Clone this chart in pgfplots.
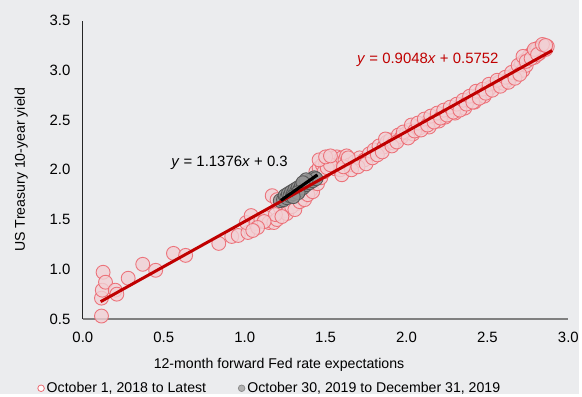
\documentclass[border=0pt]{standalone}
\usepackage{fontspec}
\setmainfont{Liberation Sans}
\usepackage{pgfplots}
\pgfplotsset{compat=1.18}
\definecolor{bg}{RGB}{235,236,238}
\definecolor{pinkfill}{RGB}{242,208,212}
\definecolor{pinkedge}{RGB}{236,104,112}
\definecolor{grayfill}{RGB}{150,150,150}
\definecolor{grayedge}{RGB}{88,88,88}
\definecolor{darkred}{RGB}{192,0,0}
\begin{document}
\begin{tikzpicture}[font=\fontsize{14.2bp}{17bp}\selectfont]
\fill[bg] (-83.3bp,-75.3bp) rectangle (498.7bp,320.7bp);
\begin{axis}[
  at={(0,0)}, anchor=south west,
  scale only axis, width=488bp, height=300bp,
  xmin=0, xmax=3, ymin=0.5, ymax=3.5,
  xtick={0,0.5,...,3.0}, ytick={0.5,1.0,...,3.5},
  axis lines=left, axis line style={-},
  x axis line style={draw=black!50, line width=1.2pt},
  y axis line style={draw=black!85, line width=0.8pt},
  major tick length=0pt,
  tick label style={font=\fontsize{15bp}{17bp}\selectfont},
  /pgf/number format/assume math mode=true,
  /pgf/number format/.cd, fixed, fixed zerofill, precision=1, /pgfplots/.cd,
  xticklabel style={yshift=-10bp},
  yticklabel style={xshift=-9bp},
  xlabel={12-month forward Fed rate expectations},
  ylabel={US Treasury 10-year yield},
  every axis x label/.style={at={(axis description cs:0.404,-0.152)},anchor=center},
  every axis y label/.style={at={(axis description cs:-0.127,0.50)},anchor=center,rotate=90},
  legend columns=2,
  legend style={at={(axis description cs:0.385,-0.232)}, anchor=center, draw=none, fill=none,
    /tikz/every even column/.append style={column sep=30bp}, inner sep=0pt,
    font=\fontsize{14.2bp}{17bp}\selectfont},
  legend cell align=left,
  clip=false, clip mode=individual,
]
\addplot[only marks, mark=*, mark size=7bp,
  mark options={fill=pinkfill, draw=pinkedge, line width=0.9pt, fill opacity=0.8, draw opacity=0.9},
  legend image code/.code={\draw[draw=pinkedge, fill=white, line width=0.8pt] (0.1cm,0cm) circle (3.3bp);}]
coordinates {
(0.115,0.53) (0.115,0.71) (0.12,0.79) (0.125,0.97) (0.14,0.87) (0.20,0.79) (0.21,0.75)
(0.28,0.91) (0.37,1.05) (0.45,0.99) (0.56,1.16) (0.635,1.14) (0.84,1.26) (0.92,1.33)
(0.96,1.34) (1.02,1.37) (1.01,1.47) (1.04,1.54) (1.07,1.46) (1.10,1.50) (1.13,1.52)
(1.15,1.47) (1.18,1.47) (1.20,1.50) (1.17,1.74) (1.20,1.70) (1.22,1.62) (1.25,1.59)
(1.27,1.64) (1.28,1.68) (1.30,1.70) (1.32,1.66) (1.33,1.75) (1.35,1.80) (1.36,1.72)
(1.38,1.78) (1.40,1.85) (1.41,1.80) (1.43,1.90) (1.44,1.98) (1.46,2.02) (1.48,2.05)
(1.50,2.06) (1.52,2.10) (1.54,2.12) (1.55,2.08) (1.57,2.13) (1.58,2.05) (1.60,2.12)
(1.62,2.10) (1.63,2.14) (1.56,2.01) (1.59,2.00) (1.65,2.05) (1.68,2.08) (1.71,2.12)
(1.74,2.10) (1.77,2.16) (1.80,2.20) (1.83,2.24) (1.86,2.23) (1.88,2.28) (1.90,2.30)
(1.92,2.27) (1.95,2.35) (1.97,2.33) (2.00,2.37) (2.02,2.40) (2.04,2.36) (2.06,2.43)
(2.08,2.42) (2.10,2.45) (2.12,2.47) (2.14,2.43) (2.16,2.50) (2.18,2.52) (2.20,2.49)
(2.22,2.56) (2.24,2.53) (2.26,2.58) (2.28,2.60) (2.30,2.57) (2.32,2.63) (2.34,2.66)
(2.36,2.62) (2.38,2.70) (2.40,2.72) (2.42,2.68) (2.44,2.75) (2.46,2.78) (2.48,2.74)
(2.50,2.79) (2.52,2.83) (2.55,2.86) (2.57,2.88) (2.60,2.87) (2.62,2.90) (2.64,2.93)
(2.66,2.95) (2.68,2.97) (2.70,3.03) (2.71,3.07) (2.72,3.00) (2.73,3.10) (2.74,3.05)
(2.75,3.12) (2.76,3.15) (2.78,3.18) (2.79,3.13) (2.80,3.20) (2.81,3.22) (2.82,3.17)
(2.83,3.23) (2.84,3.20) (2.85,3.24) (2.86,3.21) (2.87,3.24)
(1.60,1.95) (1.66,2.00) (1.70,2.03) (1.75,2.06) (1.79,2.12) (1.82,2.15) (1.85,2.18)
(1.87,2.31) (1.91,2.24) (1.94,2.28) (1.98,2.38) (2.01,2.32) (2.03,2.45) (2.05,2.39)
(2.07,2.47) (2.09,2.40) (2.11,2.51) (2.13,2.45) (2.15,2.54) (2.17,2.48) (2.19,2.57)
(2.21,2.52) (2.23,2.60) (2.25,2.55) (2.27,2.63) (2.29,2.58) (2.31,2.66) (2.33,2.60)
(2.35,2.70) (2.37,2.66) (2.39,2.74) (2.41,2.68) (2.43,2.79) (2.45,2.72) (2.47,2.81)
(2.49,2.77) (2.51,2.86) (2.53,2.80) (2.56,2.90) (2.58,2.84) (2.61,2.93) (2.63,2.88)
(2.65,2.98) (2.67,2.92) (2.69,3.05) (2.70,2.96) (2.72,3.14) (2.74,3.09) (2.77,3.12)
(2.79,3.21) (2.81,3.16) (2.84,3.26) (2.86,3.25) (1.26,1.56) (1.29,1.63) (1.31,1.60)
(1.34,1.68) (1.37,1.70) (1.39,1.75) (1.42,1.78) (1.45,1.86) (1.47,1.92) (1.49,1.98)
(1.51,2.02) (1.53,2.05) (1.61,2.03) (1.64,2.12) (1.46,2.10) (1.50,2.13) (1.53,2.14)
(1.19,1.55) (1.23,1.53) (1.12,1.48) (1.08,1.42) (1.05,1.39)
};
\addlegendentry{October 1, 2018 to Latest}
\addplot[only marks, mark=*, mark size=7bp,
  mark options={fill=grayfill, draw=grayedge, line width=0.9pt, fill opacity=0.85},
  legend image code/.code={\draw[draw=black!45, fill=black!30, line width=0.8pt] (0.1cm,0cm) circle (3.3bp);}]
coordinates {
(1.22,1.69) (1.24,1.70) (1.25,1.74) (1.26,1.72) (1.27,1.76) (1.28,1.74) (1.29,1.78)
(1.30,1.76) (1.31,1.80) (1.32,1.78) (1.33,1.82) (1.34,1.80) (1.35,1.84) (1.36,1.82)
(1.37,1.86) (1.38,1.85) (1.39,1.88) (1.40,1.87) (1.41,1.90) (1.42,1.89) (1.43,1.92)
(1.44,1.91) (1.38,1.90) (1.36,1.87) (1.33,1.77) (1.30,1.73)
};
\addlegendentry{October 30, 2019 to December 31, 2019}
\addplot[darkred, line width=3pt, forget plot] coordinates {(0.11,0.6747) (2.90,3.1991)};
\addplot[black, line width=3.2pt, forget plot] coordinates {(1.224,1.6924) (1.45,1.9495)};
\node[anchor=east, text=darkred, font=\fontsize{15bp}{17bp}\selectfont] at (axis cs:2.59,3.107) {\textit{y} = 0.9048\textit{x} + 0.5752};
\node[anchor=east, text=black, font=\fontsize{15bp}{17bp}\selectfont] at (axis cs:1.288,2.067) {\textit{y} = 1.1376\textit{x} + 0.3};
\end{axis}
\end{tikzpicture}
\end{document}
